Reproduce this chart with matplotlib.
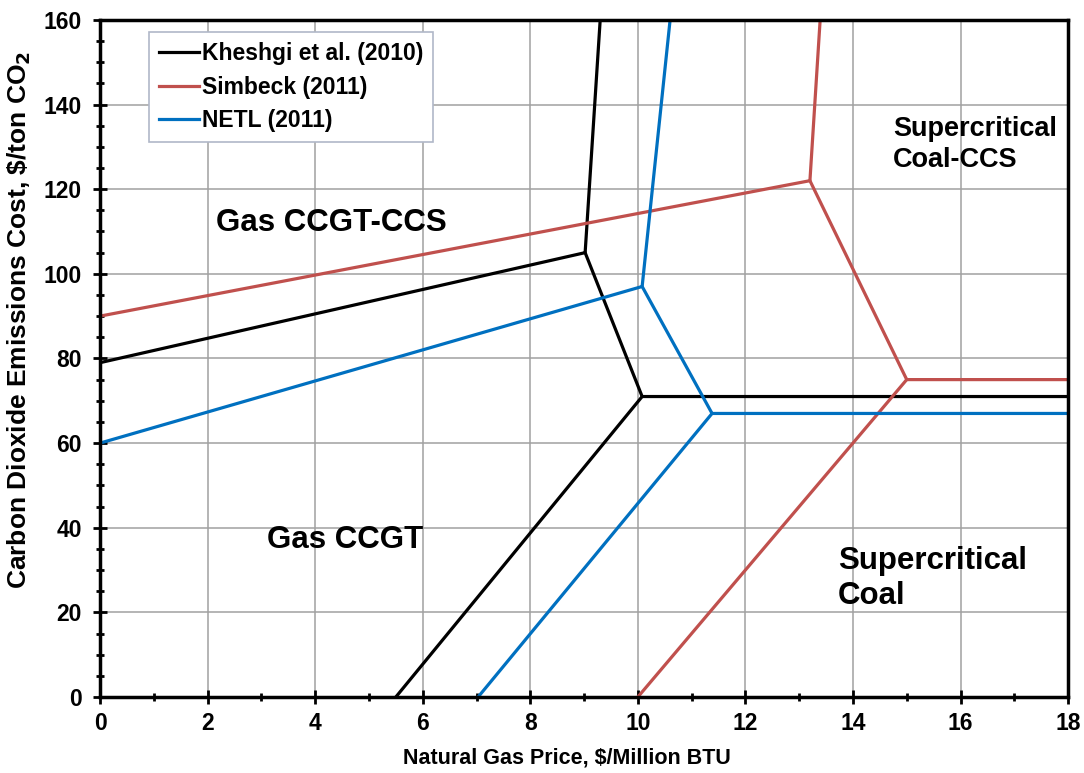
import numpy as np
import matplotlib.pyplot as plt
from matplotlib.ticker import MultipleLocator

plt.rcParams['font.family'] = ['Liberation Sans', 'DejaVu Sans']
plt.rcParams['font.weight'] = 'bold'
plt.rcParams['mathtext.default'] = 'bf'

# boundary lines, each series drawn as separate segments from a common triple point
kh_upper = [[0, 79], [9.02, 105], [9.3, 160]]
kh_mid = [[9.02, 105], [10.08, 71], [18, 71]]
kh_low = [[10.08, 71], [5.5, 0]]

sb_upper = [[0, 90], [13.2, 122], [13.39, 160]]
sb_mid = [[13.2, 122], [15.0, 75], [18, 75]]
sb_low = [[15.0, 75], [10.0, 0]]

ne_upper = [[0, 60], [10.08, 97], [10.6, 160]]
ne_mid = [[10.08, 97], [11.38, 67], [18, 67]]
ne_low = [[11.38, 67], [7.03, 0]]

series = [
    ("Kheshgi et al. (2010)", "#000000", [kh_upper, kh_mid, kh_low]),
    ("Simbeck (2011)", "#c0504d", [sb_upper, sb_mid, sb_low]),
    ("NETL (2011)", "#0070c0", [ne_upper, ne_mid, ne_low]),
]

# label, x, y, alignment, size
regions = [
    ("Gas CCGT-CCS", 4.3, 112, 'center', 22.5),
    ("Gas CCGT", 4.55, 37, 'center', 22.5),
    ("Supercritical\nCoal-CCS", 14.75, 130.5, 'left', 19.5),
    ("Supercritical\nCoal", 13.72, 28, 'left', 22.5),
]

fig = plt.figure(figsize=(10.84, 7.73), dpi=100)
ax = fig.add_axes([0.0923, 0.0983, 0.893, 0.876])

for name, col, segs in series:
    for i, seg in enumerate(segs):
        seg = np.array(seg)
        ax.plot(seg[:, 0], seg[:, 1], color=col, lw=2.3,
                label=name if i == 0 else None, solid_joinstyle='miter')

for txt, x, y, ha, fs in regions:
    ax.text(x, y, txt, fontsize=fs, fontweight='bold', ha=ha, va='center',
            linespacing=1.25)

ax.set_xlim(0, 18)
ax.set_ylim(0, 160)
ax.xaxis.set_major_locator(MultipleLocator(2))
ax.xaxis.set_minor_locator(MultipleLocator(1))
ax.yaxis.set_major_locator(MultipleLocator(20))
ax.yaxis.set_minor_locator(MultipleLocator(5))
ax.grid(True, which='major', color='#a0a0a0', lw=1.1)
ax.set_axisbelow(True)
ax.tick_params(which='major', direction='inout', length=10, width=2, labelsize=16.5)
ax.tick_params(which='minor', direction='inout', length=6, width=2)
ax.tick_params(axis='y', which='major', pad=8)
ax.tick_params(axis='x', which='major', pad=6)
for lab in ax.get_xticklabels() + ax.get_yticklabels():
    lab.set_fontweight('bold')
for sp in ax.spines.values():
    sp.set_linewidth(2.5)

ax.set_xlabel('Natural Gas Price, $/Million BTU', fontsize=15.5, fontweight='bold')
ax.set_ylabel('Carbon Dioxide Emissions Cost, \\$/ton CO$_2$', fontsize=19,
              fontweight='bold')
ax.xaxis.set_label_coords(0.482, -0.075)
ax.yaxis.set_label_coords(-0.069, 0.557)

leg = ax.legend(loc='upper left', bbox_to_anchor=(0.0506, 0.982),
                prop={'size': 16.5, 'weight': 'bold'},
                fancybox=False, framealpha=1, edgecolor='#b0b8c8',
                handlelength=1.75, handletextpad=0.1, borderpad=0.45,
                labelspacing=0.45, borderaxespad=0)
leg.get_frame().set_linewidth(1.2)

fig.savefig('out.png', dpi=100)
